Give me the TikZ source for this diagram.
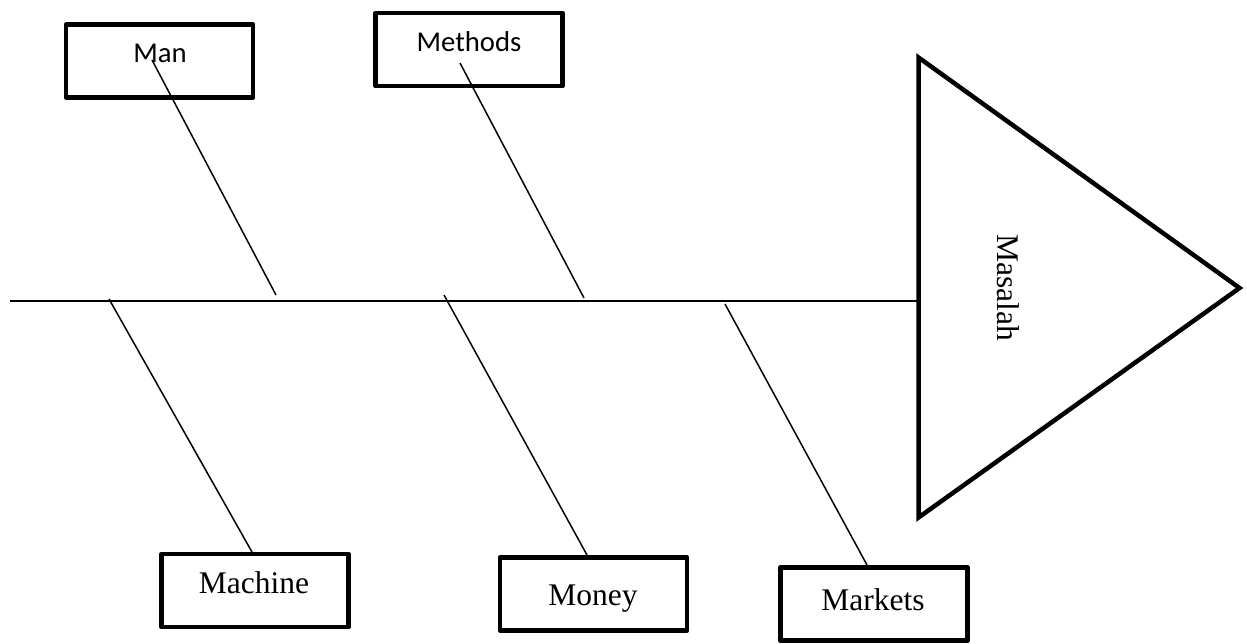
\documentclass[tikz,border=0pt]{standalone}
\usepackage{fontspec}
\setmainfont{Liberation Serif}
\newfontfamily\calfont{Carlito}
\begin{document}
\begin{tikzpicture}[x=1pt,y=-1pt,
  causebox/.style={draw, line width=4.5pt, line join=round, inner sep=0pt,
    minimum width=187pt, minimum height=73pt},
  sanslabel/.style={anchor=base, inner sep=0pt, font=\calfont\fontsize{28.7}{34}\selectfont},
  seriflabel/.style={anchor=base, inner sep=0pt, font=\fontsize{31.5}{38}\selectfont},
  bone/.style={line width=1.5pt},
  spine/.style={line width=2pt},
  headline/.style={line width=4.5pt, line join=miter}]
\useasboundingbox (0,0) rectangle (1247,644);

% cause boxes
\node[causebox] (man)      at (159.5,61)   {};
\node[causebox] (methods)  at (469,49.5)   {};
\node[causebox] (machine)  at (255,590.5)  {};
\node[causebox] (money)    at (593.5,594)  {};
\node[causebox] (markets)  at (874,604)    {};

% captions
\node[sanslabel]  (mantext)     at (160,63)  {Man};
\node[sanslabel]  (methodstext) at (469,52)  {Methods};
\node[seriflabel] (machinetext) at (254,593) {Machine};
\node[seriflabel] (moneytext)   at (593,605) {Money};
\node[seriflabel] (marketstext) at (873,610) {Markets};

% head of the fish
\coordinate (headtop) at (918.5,57.5);
\coordinate (headtip) at (1239.5,288);
\coordinate (headbot) at (918.5,517.5);
\draw[headline] (headtop) -- (headtip) -- (headbot) -- cycle;
\node[rotate=-90, inner sep=0pt, font=\fontsize{31.5}{38}\selectfont] (problem) at (1008,288) {Masalah};

% spine
\coordinate (tail) at (10,300.5);
\coordinate (neck) at (918.5,300.5);
\draw[spine] (tail) -- (neck);

% bone end points
\coordinate (manin)     at (152,60);
\coordinate (manon)     at (276,295);
\coordinate (methin)    at (460,63);
\coordinate (methon)    at (584,298);
\coordinate (machon)    at (109,299);
\coordinate (machtop)   at (252,552);
\coordinate (moneyon)   at (444,295);
\coordinate (moneytop)  at (587,555);
\coordinate (marketon)  at (725,304);
\coordinate (markettop) at (867,565);

% bones
\draw[bone] (manin) -- (manon);
\draw[bone] (methin) -- (methon);
\draw[bone] (machon) -- (machtop);
\draw[bone] (moneyon) -- (moneytop);
\draw[bone] (marketon) -- (markettop);
\end{tikzpicture}
\end{document}
